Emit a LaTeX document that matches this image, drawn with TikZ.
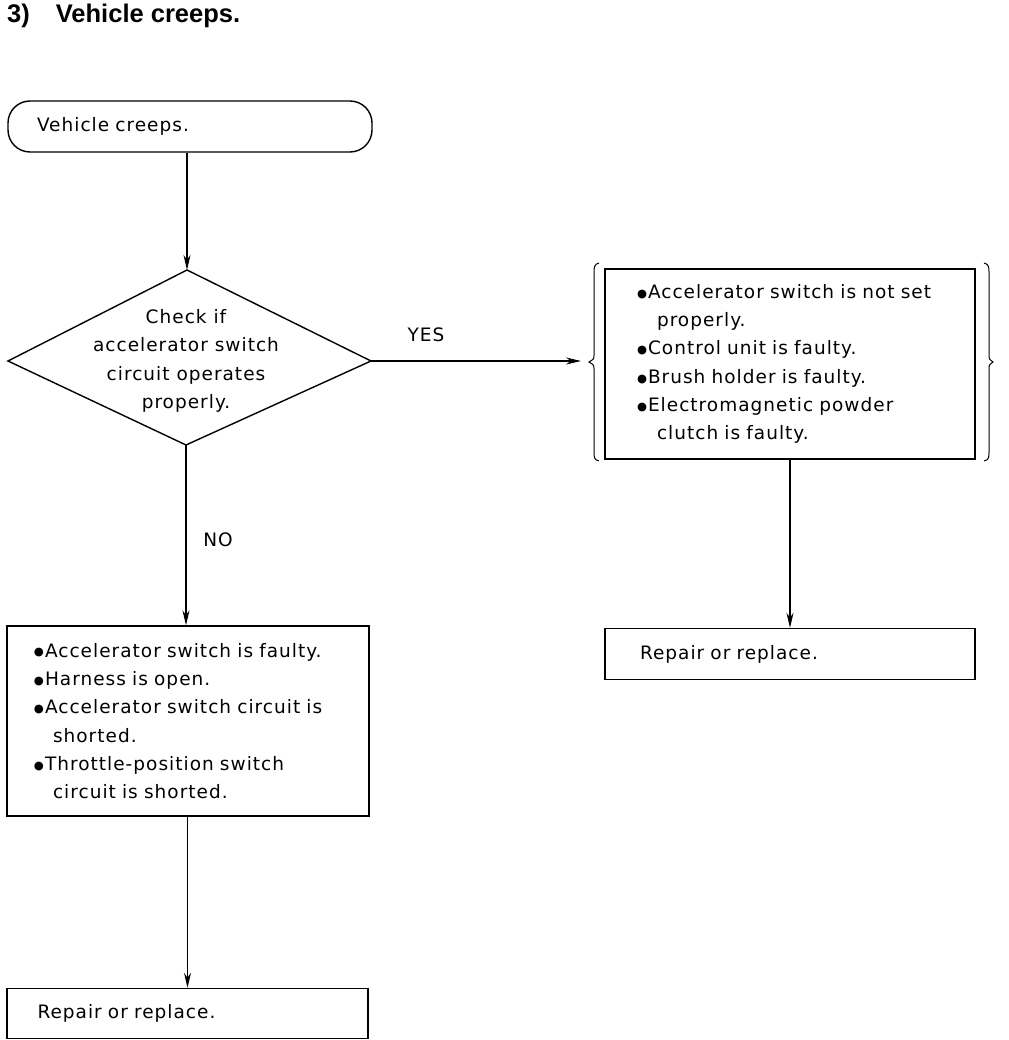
\documentclass[tikz,border=0pt]{standalone}
\usepackage{fontspec}
\setmainfont{DejaVu Sans}
\newfontfamily\titlefont{Liberation Sans}
\usetikzlibrary{arrows.meta}
\newcommand{\bl}{\makebox[12pt][c]{\raisebox{1.2pt}{\scalebox{0.62}{●}}}}
\newcommand{\ctl}{\hspace*{20pt}}
\newcommand{\ctr}{\hspace*{21pt}}
\begin{document}
\begin{tikzpicture}[x=1pt,y=-1pt,
  txt/.style={font=\fontsize{18.5}{28.3}\selectfont\addfontfeature{LetterSpace=5.5}},
  box/.style={draw,line width=1.4pt,rectangle,txt,align=left,inner ysep=0pt},
  arr/.style={line width=1.2pt,-{Stealth[length=15pt,width=7pt]}},
  brk/.style={line width=1pt}]
\useasboundingbox (0,0) rectangle (1008,1040);
\node[anchor=base west,font=\titlefont\bfseries\fontsize{25.5}{28}\selectfont,inner sep=0pt] (title) at (7,23) {3)\hspace{26pt}Vehicle creeps.};
\node[draw,line width=1.4pt,rounded corners=22pt,minimum width=364pt,minimum height=51pt,txt,align=left,text width=306pt,inner xsep=29pt] (start) at (190,126.5) {Vehicle creeps.};
\node[txt,align=center,inner sep=0pt] (dia) at (186,361) {Check if\\accelerator switch\\circuit operates\\properly.};
\coordinate (diaN) at (187,270);
\coordinate (diaE) at (371,361);
\coordinate (diaS) at (186,445);
\coordinate (diaW) at (8,361);
\draw[line width=1.4pt,line join=miter] (diaN) -- (diaE) -- (diaS) -- (diaW) -- cycle;
\node[box,minimum width=370pt,minimum height=190pt,text width=308pt,inner xsep=31pt] (rb) at (790,364) {\bl Accelerator switch is not set\\\ctr properly.\\\bl Control unit is faulty.\\\bl Brush holder is faulty.\\\bl Electromagnetic powder\\\ctr clutch is faulty.};
\node[box,minimum width=370pt,minimum height=51pt,text width=300pt,inner xsep=35pt] (rr) at (790,654) {\raisebox{-2pt}{Repair or replace.}};
\node[box,minimum width=362pt,minimum height=190pt,text width=310pt,inner xsep=26pt] (lb) at (188,721) {\bl Accelerator switch is faulty.\\\bl Harness is open.\\\bl Accelerator switch circuit is\\\ctl shorted.\\\bl Throttle-position switch\\\ctl circuit is shorted.};
\node[box,minimum width=361pt,minimum height=50pt,text width=300pt,inner xsep=30pt] (lr) at (187.5,1013.5) {\raisebox{-2pt}{Repair or replace.}};
\node[txt] (yes) at (426,335) {YES};
\node[txt] (no) at (218,540) {NO};
\coordinate (bl) at (581,361);
\draw[arr] (start.south -| diaN) -- (diaN);
\draw[arr] (diaE) -- (bl);
\draw[arr] (diaS) -- (diaS |- lb.north);
\draw[arr] (rb.south) -- (rr.north);
\draw[arr] (lb.south -| lr.north) -- (lr.north);
\draw[brk] (599,263) .. controls (594,264) and (594,268) .. (594,272) -- (594,355) .. controls (594,359) .. (589,362) .. controls (594,365) .. (594,369) -- (594,452) .. controls (594,457) and (594,460) .. (599,461);
\draw[brk] (984,263) .. controls (989,264) and (989,268) .. (989,272) -- (989,355) .. controls (989,359) .. (993,362) .. controls (989,365) .. (989,369) -- (989,452) .. controls (989,457) and (989,460) .. (984,461);
\end{tikzpicture}
\end{document}
